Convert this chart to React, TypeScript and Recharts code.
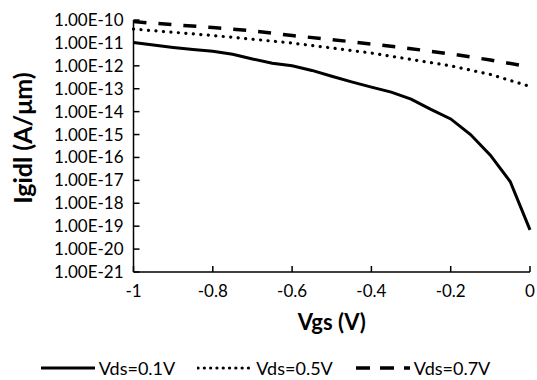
import { LineChart, Line, XAxis, YAxis, Legend } from "recharts";

const FONT = "Lato, 'Open Sans', sans-serif";

// ---------------------------------------------------------------------------
// Data
// ---------------------------------------------------------------------------

// Vgs sweep for Vds=0.1V (V)
const vgsFine = [
  -1, -0.95, -0.9, -0.85, -0.8, -0.75, -0.7, -0.65, -0.6, -0.55, -0.5,
  -0.45, -0.4, -0.35, -0.3, -0.25, -0.2, -0.15, -0.1, -0.05, 0,
];
// Igidl (A/um) at Vds=0.1V
const igidl01 = [
  1.05e-11, 8.1e-12, 6.3e-12, 5.1e-12, 4.3e-12, 3.2e-12, 2.0e-12, 1.3e-12,
  1.0e-12, 6.3e-13, 3.5e-13, 2.0e-13, 1.17e-13, 7.1e-14, 3.5e-14, 1.26e-14,
  4.8e-15, 1.0e-15, 1.26e-16, 8.9e-18, 6.9e-20,
];

// Vgs sweep for Vds=0.5V / 0.7V (V)
const vgsCoarse = [-1, -0.9, -0.8, -0.7, -0.6, -0.5, -0.4, -0.3, -0.2, -0.1, 0];
const igidl05 = [
  4.0e-11, 2.9e-11, 2.1e-11, 1.45e-11, 9.8e-12, 6.0e-12, 3.6e-12, 1.9e-12,
  1.0e-12, 4.2e-13, 1.26e-13,
];
const igidl07 = [
  8.5e-11, 6.2e-11, 4.7e-11, 3.4e-11, 2.1e-11, 1.4e-11, 8.9e-12, 5.6e-12,
  3.3e-12, 1.8e-12, 8.9e-13,
];

const xTicks = [-1, -0.8, -0.6, -0.4, -0.2, 0];
const yTicks = [
  1e-21, 1e-20, 1e-19, 1e-18, 1e-17, 1e-16, 1e-15, 1e-14, 1e-13, 1e-12,
  1e-11, 1e-10,
];

const toRows = (xs: number[], ys: number[]) =>
  xs.map((vgs, i) => ({ vgs, i: ys[i] }));

const SERIES = [
  { name: "Vds=0.1V", data: toRows(vgsFine, igidl01), dash: undefined, width: 3, legendDash: undefined },
  { name: "Vds=0.5V", data: toRows(vgsCoarse, igidl05), dash: "0.1 7.4", width: 3.2, legendDash: "0.1 6.2" },
  { name: "Vds=0.7V", data: toRows(vgsCoarse, igidl07), dash: "13 12", width: 3.5, legendDash: "14 10" },
];

// ---------------------------------------------------------------------------
// Pieces
// ---------------------------------------------------------------------------

function LegendContent() {
  return (
    <div
      style={{
        display: "flex",
        justifyContent: "center",
        alignItems: "center",
        height: 24,
        fontFamily: FONT,
        fontSize: 18,
        color: "#000",
      }}
    >
      {SERIES.map((s) => (
        <div key={s.name} style={{ display: "flex", alignItems: "center", margin: "0 11px" }}>
          <svg width={56} height={8}>
            <line
              x1={1}
              y1={4}
              x2={55}
              y2={4}
              stroke="#000"
              strokeWidth={s.width}
              strokeDasharray={s.legendDash}
              strokeLinecap={s.dash && s.dash.startsWith("0.1") ? "round" : "butt"}
            />
          </svg>
          <span style={{ marginLeft: 3 }}>{s.name}</span>
        </div>
      ))}
    </div>
  );
}

const fmtExp = (v: number) => v.toExponential(2).toUpperCase();

export default function App() {
  return (
    <div style={{ position: "absolute", left: 0, top: 0, width: 537, height: 380, background: "#fff" }}>
      <LineChart width={537} height={380} margin={{ top: 20, right: 7, bottom: 0, left: 0 }}>
        <XAxis
          dataKey="vgs"
          type="number"
          domain={[-1, 0]}
          ticks={xTicks}
          interval={0}
          allowDuplicatedCategory={false}
          height={84}
          tickSize={-6}
          tickMargin={19}
          tickFormatter={(v: number) => String(v)}
          tick={{ fill: "#000", fontSize: 17, fontFamily: FONT }}
          axisLine={{ stroke: "#000", strokeWidth: 1.5 }}
          tickLine={{ stroke: "#000", strokeWidth: 1.5 }}
          label={{
            content: ({ viewBox }: any) => (
              <text
                x={viewBox.x + viewBox.width / 2}
                y={viewBox.y + 49}
                textAnchor="middle"
                dominantBaseline="central"
                fontFamily={FONT}
                fontWeight="bold"
                fontSize={22}
                fill="#000"
              >
                Vgs (V)
              </text>
            ),
          }}
        />
        <YAxis
          type="number"
          scale="log"
          domain={[1e-21, 1e-10]}
          ticks={yTicks}
          interval={0}
          allowDataOverflow
          width={133.5}
          tickSize={-6}
          tickMargin={16}
          tickFormatter={fmtExp}
          tick={{ fill: "#000", fontSize: 17, fontFamily: FONT }}
          axisLine={{ stroke: "#000", strokeWidth: 1.5 }}
          tickLine={{ stroke: "#000", strokeWidth: 1.5 }}
          label={{
            content: ({ viewBox }: any) => {
              const cx = viewBox.x + 22;
              const cy = viewBox.y + viewBox.height / 2 - 8;
              return (
                <text
                  x={cx}
                  y={cy}
                  transform={`rotate(-90, ${cx}, ${cy})`}
                  textAnchor="middle"
                  dominantBaseline="central"
                  fontFamily={FONT}
                  fontWeight="bold"
                  fontSize={25}
                  fill="#000"
                >
                  Igidl (A/μm)
                </text>
              );
            },
          }}
        />
        <Legend verticalAlign="bottom" height={24} content={() => <LegendContent />} />
        {SERIES.map((s) => (
          <Line
            key={s.name}
            name={s.name}
            data={s.data}
            dataKey="i"
            type="linear"
            stroke="#000"
            strokeWidth={s.width}
            strokeDasharray={s.dash}
            strokeLinecap={s.dash && s.dash.startsWith("0.1") ? "round" : "butt"}
            dot={false}
            activeDot={false}
            isAnimationActive={false}
          />
        ))}
      </LineChart>
    </div>
  );
}
